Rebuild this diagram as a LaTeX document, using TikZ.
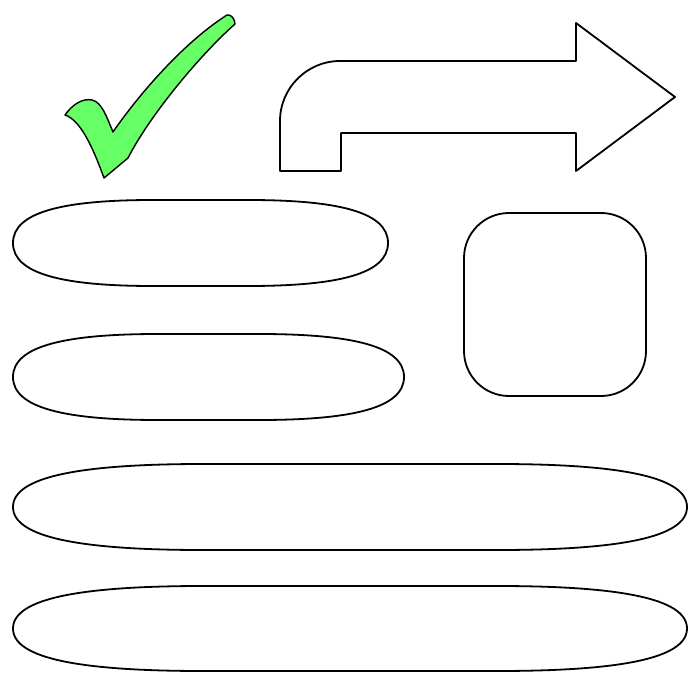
\documentclass[tikz,border=0pt]{standalone}
\usepackage{tikz}
\definecolor{checkgreen}{RGB}{102,255,102}
\tikzset{
  outline/.style={draw=black, line width=1.8pt, line join=round},
  checkstyle/.style={draw=black, line width=1.4pt, fill=checkgreen, line join=round}
}
% pill: x1, x2, ytop, ybot, flat offset, control offset
\newcommand{\mypill}[6]{%
  \draw[outline] (#1,{(#3+#4)/2})
    .. controls (#1,{(#3+#4)/2-0.36*(#4-#3)}) and ({#1+#6},#3) .. ({#1+#5},#3)
    -- ({#2-#5},#3)
    .. controls ({#2-#6},#3) and (#2,{(#3+#4)/2-0.36*(#4-#3)}) .. (#2,{(#3+#4)/2})
    .. controls (#2,{(#3+#4)/2+0.36*(#4-#3)}) and ({#2-#6},#4) .. ({#2-#5},#4)
    -- ({#1+#5},#4)
    .. controls ({#1+#6},#4) and (#1,{(#3+#4)/2+0.36*(#4-#3)}) .. (#1,{(#3+#4)/2})
    -- cycle;}
\begin{document}
\begin{tikzpicture}[x=1pt,y=-1pt]
\useasboundingbox (0,0) rectangle (700,700);
% check mark
\draw[checkstyle] (227,15) .. controls (231,14) and (235,19) .. (235,24)
  .. controls (200,55) and (150,115) .. (128,158)
  -- (104,178)
  .. controls (92,145) and (80,120) .. (65,115)
  .. controls (72,105) and (82,98) .. (92,100)
  .. controls (102,102) and (107,118) .. (113,132)
  .. controls (135,100) and (180,45) .. (227,15) -- cycle;
% bent arrow
\draw[outline] (280,171) -- (341,171) -- (341,133) -- (576,133) -- (576,171)
  -- (675,97) -- (576,23) -- (576,61) -- (340,61)
  .. controls (307,61) and (280,88) .. (280,121) -- cycle;
% rounded square
\draw[outline, rounded corners=45pt] (464,213) rectangle (646,396);
% pills
\mypill{13}{388}{200}{286}{140}{50}
\mypill{13}{404}{334}{420}{145}{52}
\mypill{13}{687}{464}{550}{190}{70}
\mypill{13}{687}{586}{671}{190}{70}
\end{tikzpicture}
\end{document}
